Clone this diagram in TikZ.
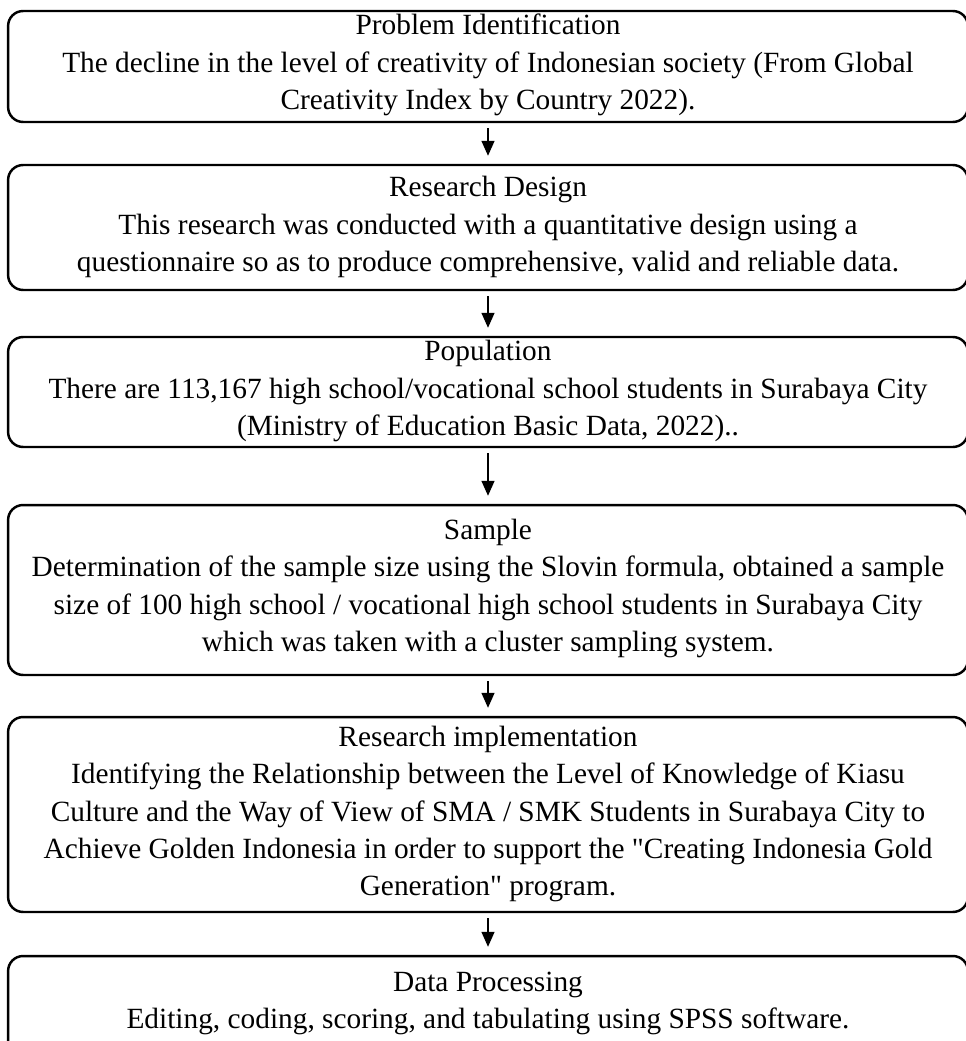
\documentclass[tikz,border=0pt]{standalone}
\usepackage{fontspec}
\setmainfont{Liberation Serif}
\usetikzlibrary{positioning,arrows.meta}
\tikzset{
  stage/.style={draw,rounded corners=0.3cm,line width=1.4pt,inner sep=0,minimum width=19.2cm},
  words/.style={align=center,inner sep=0,font=\fontsize{16.7}{21.3}\selectfont},
  flow/.style={-{Triangle[length=3mm,width=2.6mm]},line width=0.8pt,
               shorten <=0.1cm,shorten >=0.16cm},
}
\begin{document}
\begin{tikzpicture}[x=0.02cm,y=-0.02cm]
  \useasboundingbox (0,0) rectangle (966,1041);
  % frames of the research stages, top to bottom
  \node[stage,minimum height=2.22cm] (ident) at (488,66.5) {};
  \node[stage,minimum height=2.5cm] (design) at (488,227.5) {};
  \node[stage,minimum height=2.2cm] (popul) at (488,392) {};
  \node[stage,minimum height=3.4cm] (sample) at (488,590) {};
  \node[stage,minimum height=3.9cm] (implem) at (488,814.5) {};
  \node[stage,minimum height=2.68cm] (process) at (488,1023) {};
  % texts of the stages
  \node[words] (identtext) at (488,65)
    {Problem Identification\\
     The decline in the level of creativity of Indonesian society (From Global\\
     Creativity Index by Country 2022).};
  \node[words] (designtext) at (488,227)
    {Research Design\\
     This research was conducted with a quantitative design using a\\
     questionnaire so as to produce comprehensive, valid and reliable data.};
  \node[words] (popultext) at (488,391)
    {Population\\
     There are 113,167 high school/vocational school students in Surabaya City\\
     (Ministry of Education Basic Data, 2022)..};
  \node[words] (sampletext) at (488,588.5)
    {Sample\\
     Determination of the sample size using the Slovin formula, obtained a sample\\
     size of 100 high school / vocational high school students in Surabaya City\\
     which was taken with a cluster sampling system.};
  \node[words] (implemtext) at (488,814)
    {Research implementation\\
     Identifying the Relationship between the Level of Knowledge of Kiasu\\
     Culture and the Way of View of SMA / SMK Students in Surabaya City to\\
     Achieve Golden Indonesia in order to support the \textquotedbl Creating Indonesia Gold\\
     Generation\textquotedbl{} program.};
  \node[words] (processtext) at (488,1003.5)
    {Data Processing\\
     Editing, coding, scoring, and tabulating using SPSS software.};
  % arrows between consecutive stages
  \foreach \a/\b in {ident/design,design/popul,popul/sample,sample/implem,implem/process} {
    \draw[flow] (\a) -- (\b);
  }
\end{tikzpicture}
\end{document}
